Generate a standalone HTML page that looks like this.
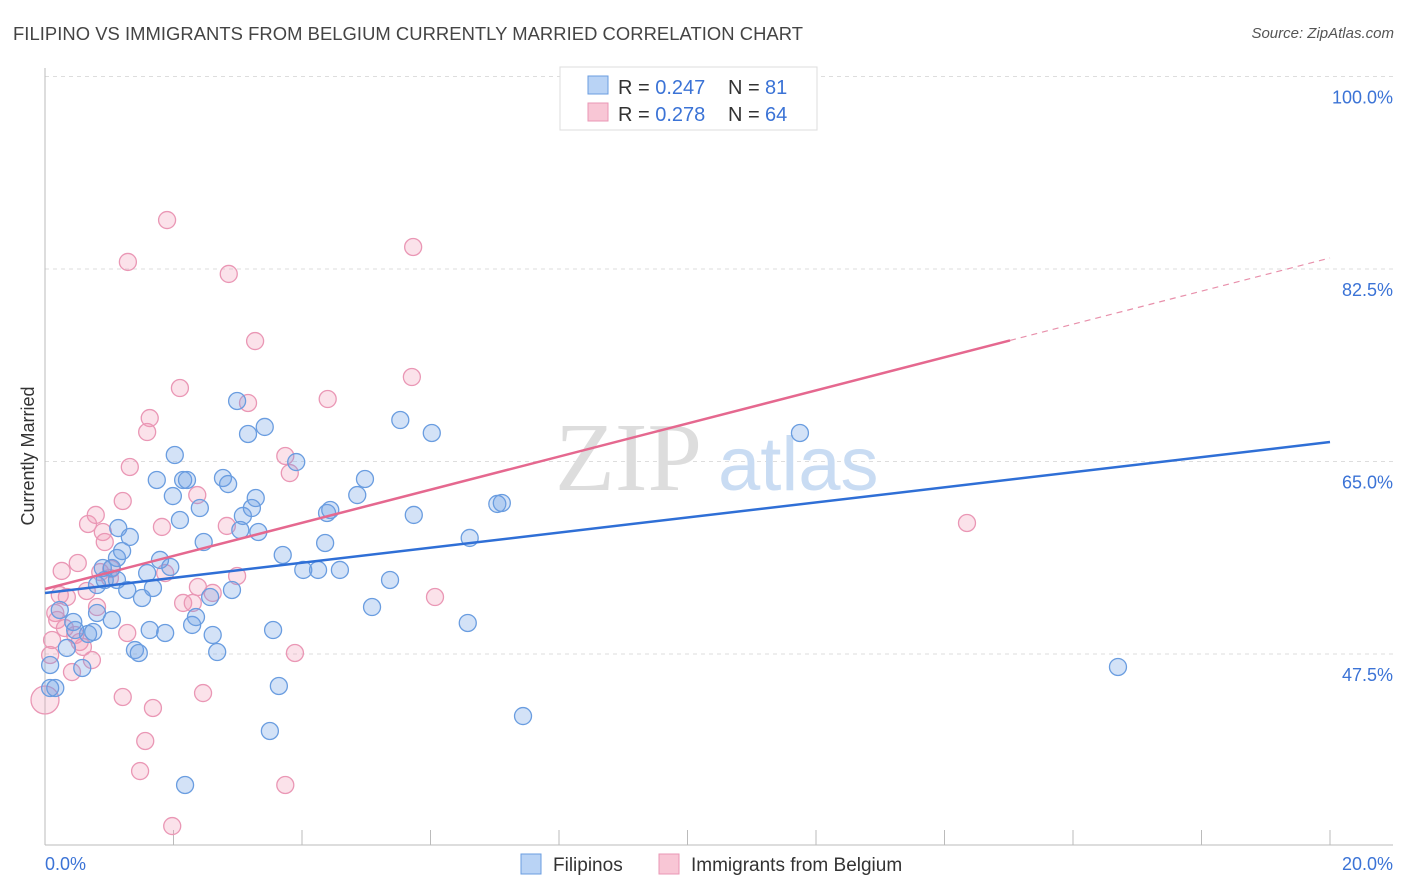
<!DOCTYPE html>
<html><head><meta charset="utf-8">
<style>
body{margin:0;background:#fff;font-family:"Liberation Sans",sans-serif;}
#wrap{position:relative;width:1406px;height:892px;overflow:hidden;}
.t{position:absolute;white-space:nowrap;}
</style></head>
<body>
<div id="wrap">
<div class="t" style="left:13px;top:23px;font-size:18.4px;letter-spacing:0.05px;color:#444;">FILIPINO VS IMMIGRANTS FROM BELGIUM CURRENTLY MARRIED CORRELATION CHART</div>
<div class="t" style="right:12px;top:25px;font-size:15px;color:#555;font-style:italic;">Source: ZipAtlas.com</div>
<svg id="svg" width="1406" height="892" style="position:absolute;left:0;top:0"></svg>
</div>
<script>
const blueX=[0.08,0.16,0.08,0.34,0.58,0.44,0.67,0.75,0.81,1.04,0.81,0.93,0.90,1.04,1.12,1.20,1.14,1.32,1.28,1.51,1.59,1.63,1.40,1.46,1.68,1.79,1.87,1.95,2.02,2.15,2.10,1.74,1.99,2.21,2.29,2.35,2.41,2.47,2.57,2.61,2.68,2.77,2.85,2.91,2.99,3.04,3.08,3.16,3.22,3.28,3.32,3.42,3.50,3.55,3.64,3.70,3.91,4.02,4.25,4.36,4.39,4.44,4.59,4.86,4.98,5.09,5.37,5.53,5.74,6.02,6.58,6.61,7.04,7.11,7.44,11.75,16.70,2.18,0.23,0.47,1.12];
const blueY=[44.41,44.41,46.5,48.05,46.23,50.41,49.32,49.5,51.23,50.59,53.77,54.23,55.32,55.32,56.23,56.86,58.95,58.14,53.32,52.59,54.86,49.68,47.86,47.59,53.5,56.05,49.41,55.41,65.59,63.32,59.68,63.32,61.86,63.32,50.14,50.86,60.77,57.68,52.68,49.23,47.68,63.5,62.95,53.32,70.5,58.77,60.05,67.5,60.77,61.68,58.59,68.14,40.5,49.68,44.59,56.5,64.95,55.14,55.14,57.59,60.32,60.59,55.14,61.95,63.41,51.77,54.23,68.77,60.14,67.59,50.32,58.05,61.14,61.23,41.86,67.59,46.32,35.59,51.5,49.68,54.23];
const pinkX=[1.90,1.29,2.86,5.73,3.27,2.10,1.63,1.59,3.16,4.40,5.71,1.32,3.74,3.81,1.21,2.37,2.83,1.82,0.67,0.79,0.90,0.93,0.51,0.26,1.01,1.87,2.99,2.38,2.61,2.15,2.30,0.34,0.65,0.81,0.16,0.19,0.31,0.54,0.59,0.73,0.42,1.28,0.08,0.0,1.21,1.68,2.46,1.56,1.48,3.89,3.74,1.98,6.07,14.35,0.11,0.23,0.47,0.86,1.03];
const pinkY=[86.95,83.14,82.05,84.5,75.95,71.68,68.95,67.68,70.32,70.68,72.68,64.5,65.5,63.95,61.41,61.95,59.14,59.05,59.32,60.14,58.59,57.68,55.77,55.05,54.41,54.86,54.59,53.59,53.05,52.14,52.14,52.68,53.23,51.77,51.23,50.59,49.86,48.59,48.14,46.95,45.86,49.41,47.41,43.32,43.59,42.59,43.95,39.59,36.86,47.59,35.59,31.86,52.68,59.41,48.77,52.86,49.23,54.95,55.23];
const yTicks=[47.5,65.0,82.5,100.0];
const xTickVals=[0,2,4,6,8,10,12,14,16,18,20];
const blueTrend=[53.05,66.77];
const pinkTrend=[53.41,83.5];
const pinkSolidEnd=15.02;

const NS="http://www.w3.org/2000/svg";
const svg=document.getElementById('svg');
const X=v=>45+v*64.25;
const Y=v=>654-(v-47.5)*11;
function mk(tag,attrs,parent){const e=document.createElementNS(NS,tag);for(const k in attrs)e.setAttribute(k,attrs[k]);(parent||svg).appendChild(e);return e;}

const gY=mk('g',{});


yTicks.forEach(v=>{
  const l=mk('line',{x1:45,x2:1393,y1:Y(v),y2:Y(v),stroke:'#ddd','stroke-dasharray':'4,4'},gY);
  
  
  const t=mk('text',{x:1393,y:Y(v)+27,'text-anchor':'end','font-size':18,fill:'#3b73d6','font-family':'Liberation Sans, sans-serif'},gY);
  t.textContent=v.toFixed(1)+'%';
  
  
});
const ax=mk('line',{x1:45,x2:45,y1:68,y2:845,stroke:'#bbb'});


const bx=mk('line',{x1:45,x2:1393,y1:845,y2:845,stroke:'#bbb'});


xTickVals.forEach(v=>{
  const l=mk('line',{x1:X(v),x2:X(v),y1:830,y2:845,stroke:'#bbb'});
  
  
});
const xl0=mk('text',{x:45,y:870,'font-size':18,fill:'#3b73d6','font-family':'Liberation Sans, sans-serif'});
xl0.textContent=xTickVals[0].toFixed(1)+'%';


const xl1=mk('text',{x:1393,y:870,'text-anchor':'end','font-size':18,fill:'#3b73d6','font-family':'Liberation Sans, sans-serif'});
xl1.textContent=xTickVals[xTickVals.length-1].toFixed(1)+'%';


const yt=mk('text',{x:34,y:456,'text-anchor':'middle','font-size':18,fill:'#333',transform:'rotate(-90 34 456)','font-family':'Liberation Sans, sans-serif'});
yt.textContent='Currently Married';


const wm=mk('text',{x:555,y:490,'font-size':98,fill:'#ddd','font-family':'Liberation Serif, serif'});
wm.textContent='ZIP';


const wm2=mk('text',{x:718,y:490,'font-size':76,fill:'#c9dcf3','font-family':'Liberation Sans, sans-serif'});
wm2.textContent='atlas';


function pts(xs,ys,fill,stroke,name){
  const g=mk('g',{});
  
  
  xs.forEach((x,i)=>{
    const c=mk('circle',{cx:X(x),cy:Y(ys[i]),r:(x===0?14:8.5),fill:fill,stroke:stroke,'stroke-width':1.3},g);
    
    
  });
}
pts(pinkX,pinkY,'rgba(240,150,180,0.28)','#ea97b5','pink');
pts(blueX,blueY,'rgba(110,160,230,0.3)','#6a9de0','blue');
const bt=mk('line',{x1:X(0),y1:Y(blueTrend[0]),x2:X(20),y2:Y(blueTrend[1]),stroke:'#2f6fd6','stroke-width':2.5});


const pAt=x=>pinkTrend[0]+(pinkTrend[1]-pinkTrend[0])*x/20;
const pt=mk('line',{x1:X(0),y1:Y(pinkTrend[0]),x2:X(pinkSolidEnd),y2:Y(pAt(pinkSolidEnd)),stroke:'#e5688f','stroke-width':2.5});


const pd=mk('line',{x1:X(pinkSolidEnd),y1:Y(pAt(pinkSolidEnd)),x2:X(20),y2:Y(pinkTrend[1]),stroke:'#e890ab','stroke-width':1.2,'stroke-dasharray':'6,5'});


const lg=mk('g',{});


mk('rect',{x:560,y:67,width:257,height:63,fill:'#fff',stroke:'#ddd'},lg);
mk('rect',{x:588,y:76,width:20,height:18,fill:'#b9d3f5',stroke:'#6a9de0'},lg);
mk('rect',{x:588,y:103,width:20,height:18,fill:'#f8c6d5',stroke:'#ea97b5'},lg);
[[94,'0.247','81'],[121,'0.278','64']].forEach(r=>{
  const t=mk('text',{x:618,y:r[0],'font-size':20,fill:'#333','font-family':'Liberation Sans, sans-serif'},lg);
  t.innerHTML='R = <tspan fill="#3b73d6">'+r[1]+'</tspan><tspan x="728">N = </tspan><tspan fill="#3b73d6" x="765">'+r[2]+'</tspan>';
  
  
});
const bl=mk('g',{});


mk('rect',{x:521,y:854,width:20,height:20,fill:'#b9d3f5',stroke:'#6a9de0'},bl);
const b1=mk('text',{x:553,y:871,'font-size':19,fill:'#333','font-family':'Liberation Sans, sans-serif'},bl);
b1.textContent='Filipinos';


mk('rect',{x:659,y:854,width:20,height:20,fill:'#f8c6d5',stroke:'#ea97b5'},bl);
const b2=mk('text',{x:691,y:871,'font-size':19,fill:'#333','font-family':'Liberation Sans, sans-serif'},bl);
b2.textContent='Immigrants from Belgium';


</script>
</body></html>
